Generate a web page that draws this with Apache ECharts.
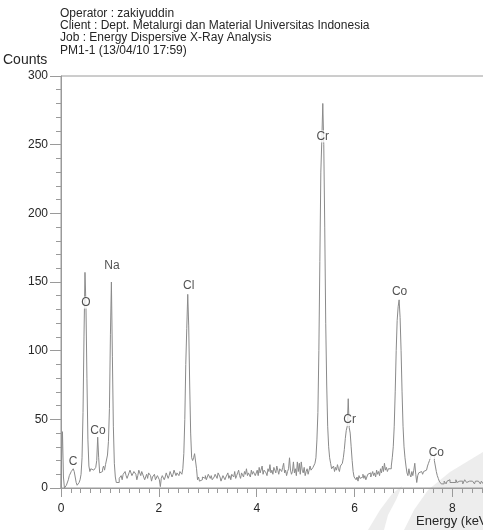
<!DOCTYPE html>
<html>
<head>
<meta charset="utf-8">
<script src="https://cdn.jsdelivr.net/npm/echarts@6/dist/echarts.min.js"></script>
<style>
  html, body { margin: 0; padding: 0; background: #fff; overflow: hidden; }
  #chart { width: 560px; height: 530px; }
</style>
</head>
<body>
<div id="chart"></div>
<script>
// EDX spectrum, PM1-1: counts per 0.02 keV channel, starting at 0 keV
const channelWidth = 0.02;

// 0.00 - 1.98 keV (C, O, Co L, Na)
const countsA = [
  0, 20, 41, 8, 0, 1, 2, 3, 6, 9, 10, 12, 11, 14, 12, 8, 4, 2, 3, 4,
  6, 10, 22, 55, 110, 157, 133, 80, 35, 16, 12, 14, 13, 13, 14, 12, 15, 20, 37, 22,
  11, 10, 12, 14, 16, 13, 17, 18, 24, 34, 58, 112, 150, 96, 45, 18, 8, 4, 5, 4,
  7, 7, 9, 6, 10, 10, 12, 9, 7, 7, 11, 13, 13, 9, 8, 12, 12, 10, 6, 9,
  13, 13, 9, 12, 12, 8, 6, 6, 10, 7, 11, 11, 9, 5, 8, 8, 10, 6, 6, 9
];
// 2.00 - 3.98 keV (Cl)
const countsB = [
  9, 6, 1, 7, 9, 9, 6, 8, 11, 11, 7, 9, 12, 12, 8, 10, 13, 13, 9, 11,
  11, 9, 12, 11, 10, 14, 25, 50, 90, 116, 141, 118, 75, 40, 22, 20, 22, 25, 26, 14,
  6, 8, 5, 4, 6, 8, 8, 7, 9, 6, 8, 10, 10, 7, 9, 6, 5, 8, 10, 10,
  7, 11, 11, 8, 5, 5, 9, 10, 6, 8, 8, 11, 7, 9, 6, 10, 10, 8, 12, 7,
  9, 11, 13, 9, 7, 11, 11, 8, 12, 10, 14, 9, 11, 11, 8, 13, 10, 12, 12, 9
];
// 4.00 - 5.98 keV (Cr K-alpha, Cr K-beta)
const countsC = [
  10, 13, 9, 15, 11, 12, 16, 10, 13, 13, 11, 9, 14, 12, 17, 11, 13, 10, 15, 15,
  11, 16, 13, 10, 14, 14, 12, 15, 18, 11, 13, 9, 12, 14, 22, 13, 10, 12, 19, 11,
  14, 9, 19, 12, 18, 10, 19, 13, 11, 15, 9, 12, 14, 10, 13, 16, 13, 12, 15, 14,
  18, 22, 35, 55, 100, 165, 230, 253, 280, 250, 190, 120, 75, 45, 30, 22, 18, 14, 13, 16,
  12, 15, 13, 17, 14, 12, 16, 15, 18, 22, 28, 36, 42, 45, 65, 44, 40, 30, 20, 12
];
// 6.00 - 7.98 keV (Co K-alpha, Co K-beta)
const countsD = [
  8, 7, 6, 8, 5, 9, 7, 6, 8, 10, 7, 9, 6, 8, 10, 9, 11, 8, 10, 12,
  9, 11, 8, 13, 10, 12, 9, 14, 11, 16, 12, 18, 13, 15, 12, 14, 13, 14, 16, 22,
  30, 45, 70, 100, 122, 132, 137, 124, 100, 70, 45, 30, 22, 16, 11, 9, 14, 10, 8, 12,
  9, 13, 18, 10, 4, 9, 11, 10, 12, 11, 10, 12, 11, 13, 14, 16, 18, 20, 22, 24,
  25, 23, 20, 16, 12, 9, 7, 5, 4, 3, 4, 3, 5, 4, 3, 5, 4, 6, 4, 3
];
// 8.00 - 8.78 keV
const countsE = [
  4, 5, 3, 4, 6, 4, 3, 5, 6, 4, 5, 3, 4, 6, 5, 4, 3, 5, 4, 6,
  5, 4, 6, 3, 5, 4, 5, 6, 4, 3, 5, 4, 3, 5, 6, 4, 5, 3, 4, 5
];

// Peak identifications: element, energy (keV), count level of the tag
const peakNames = ['C', 'O', 'Co', 'Na', 'Cl', 'Cr', 'Cr', 'Co', 'Co'];
const peakEnergy = [0.245, 0.51, 0.755, 1.04, 2.61, 5.35, 5.90, 6.92, 7.67];
const peakTagCounts = [19, 135, 42, 162, 147, 256, 49.5, 143, 25.5];

const headerLines = [
  'Operator : zakiyuddin',
  'Client : Dept. Metalurgi dan Material Universitas Indonesia',
  'Job : Energy Dispersive X-Ray Analysis',
  'PM1-1 (13/04/10 17:59)'
];
const yTicks = { min: 0, max: 300, step: 50 };
const xTicks = { min: 0, max: 10, step: 2 };

const counts = [].concat(countsA, countsB, countsC, countsD, countsE);
const spectrum = counts.map((c, i) => [+(i * channelWidth).toFixed(2), c]);
const tags = peakNames.map((n, i) => [peakEnergy[i], peakTagCounts[i], n]);

const FONT = 'Liberation Sans, Arial, sans-serif';
const TEXT = '#262626';
const AXIS = '#9a9a9a';

const chart = echarts.init(document.getElementById('chart'), null, { renderer: 'canvas' });
chart.setOption({
  animation: false,
  backgroundColor: '#ffffff',
  textStyle: { fontFamily: FONT },
  title: {
    text: headerLines.join('\n'),
    left: 60, top: 7, padding: 0,
    textStyle: { fontFamily: FONT, fontSize: 12, fontWeight: 'normal', color: TEXT, lineHeight: 12.4 }
  },
  grid: {
    left: 61, top: 76, right: 9, bottom: 42,
    show: true, borderColor: AXIS, borderWidth: 1, backgroundColor: 'transparent'
  },
  xAxis: {
    type: 'value', min: xTicks.min, max: xTicks.max, interval: xTicks.step,
    axisLine: { show: true, onZero: false, lineStyle: { color: AXIS, width: 1 } },
    axisTick: { show: true, length: 9, lineStyle: { color: AXIS } },
    minorTick: { show: true, splitNumber: 10, length: 5, lineStyle: { color: AXIS } },
    splitLine: { show: false },
    axisLabel: { fontFamily: FONT, fontSize: 12, color: TEXT, margin: 15 }
  },
  yAxis: {
    type: 'value', min: yTicks.min, max: yTicks.max, interval: yTicks.step,
    axisLine: { show: true, lineStyle: { color: AXIS, width: 1 } },
    axisTick: { show: true, length: 11, lineStyle: { color: AXIS } },
    minorTick: { show: true, splitNumber: 5, length: 5, lineStyle: { color: AXIS } },
    splitLine: { show: false },
    axisLabel: { fontFamily: FONT, fontSize: 12, color: TEXT, margin: 13 }
  },
  graphic: [
    // faint watermark swooshes in the lower right corner
    { type: 'polygon', z: -10, silent: true,
      shape: { points: [[368,530],[380,510],[392,494],[402,486],[396,500],[388,515],[384,530]] },
      style: { fill: '#ededed' } },
    { type: 'polygon', z: -10, silent: true,
      shape: { points: [[404,530],[414,510],[428,490],[450,472],[483,452],[483,530]] },
      style: { fill: '#ededed' } },
    { type: 'text', left: 3, top: 53,
      style: { text: 'Counts', font: '14px ' + FONT, fill: TEXT } },
    { type: 'text', left: 416, top: 515,
      style: { text: 'Energy (keV)', font: '13px ' + FONT, fill: TEXT } }
  ],
  series: [
    {
      type: 'line', data: spectrum, step: 'middle', showSymbol: false,
      lineStyle: { color: '#8a8a8a', width: 1 }, silent: true, z: 2
    },
    {
      type: 'scatter', data: tags, symbolSize: 1, itemStyle: { color: 'transparent' },
      z: 5, silent: true,
      label: {
        show: true, position: 'inside', formatter: p => p.value[2],
        fontFamily: FONT, fontSize: 12, color: TEXT,
        backgroundColor: '#ffffff', padding: [0, 1]
      }
    }
  ]
});
</script>
</body>
</html>
